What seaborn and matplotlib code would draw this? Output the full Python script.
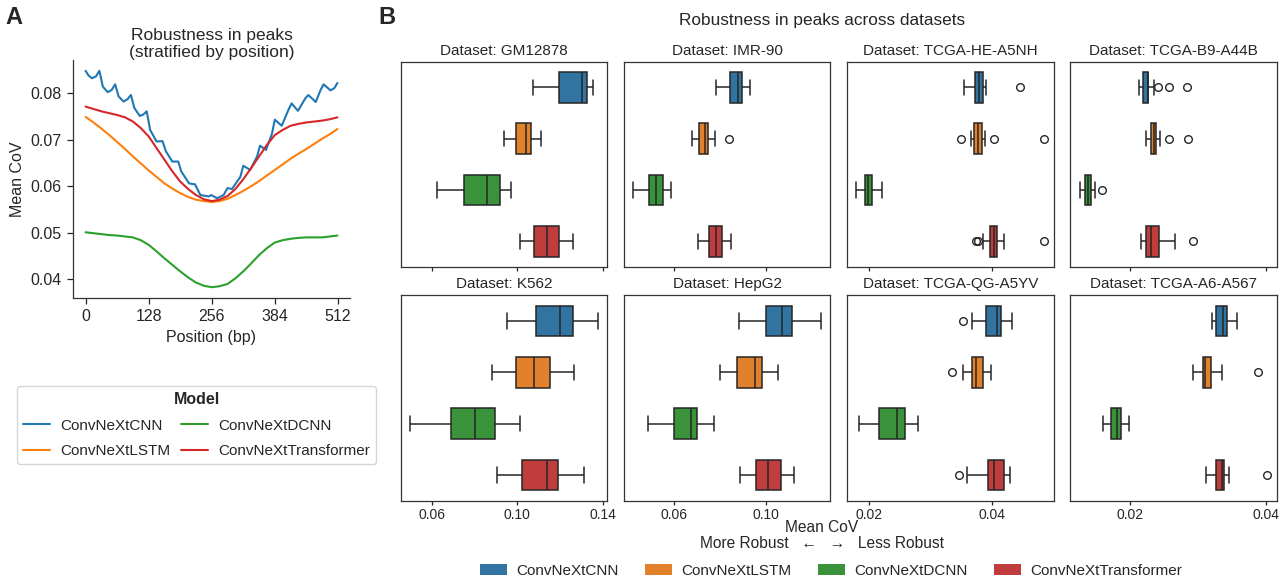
import pandas as pd
import matplotlib
matplotlib.use('Agg')
import matplotlib.pyplot as plt
import matplotlib.patches as mpatches
from matplotlib.ticker import FormatStrFormatter
import seaborn as sns

models = ['ConvNeXtCNN', 'ConvNeXtLSTM', 'ConvNeXtDCNN', 'ConvNeXtTransformer']
colors = ['#1f77b4', '#ff7f0e', '#2ca02c', '#d62728']

# Panel A: mean CoV along the peak, per model
pos_smooth = [0, 16, 32, 48, 64, 80, 96, 112, 128, 144, 160, 176, 192, 208, 224, 240, 256,
              272, 288, 304, 320, 336, 352, 368, 384, 400, 416, 432, 448, 464, 480, 496, 511]
lstm_cov = [0.0749, 0.0737, 0.0724, 0.0710, 0.0695, 0.0680, 0.0664, 0.0649, 0.0634, 0.0620,
            0.0606, 0.0595, 0.0585, 0.0577, 0.0571, 0.0568, 0.0566, 0.0568, 0.0573, 0.0581,
            0.0590, 0.0600, 0.0611, 0.0623, 0.0635, 0.0647, 0.0659, 0.0670, 0.0680, 0.0691,
            0.0702, 0.0712, 0.0723]
dcnn_cov = [0.0501, 0.0499, 0.0497, 0.0495, 0.0494, 0.0492, 0.0490, 0.0484, 0.0474, 0.0460,
            0.0445, 0.0431, 0.0417, 0.0404, 0.0393, 0.0386, 0.0383, 0.0385, 0.0390, 0.0402,
            0.0417, 0.0434, 0.0452, 0.0467, 0.0479, 0.0484, 0.0487, 0.0489, 0.0490, 0.0490,
            0.0490, 0.0492, 0.0494]
transformer_cov = [0.0771, 0.0766, 0.0761, 0.0757, 0.0753, 0.0748, 0.0739, 0.0725, 0.0707,
                   0.0682, 0.0657, 0.0632, 0.0610, 0.0594, 0.0581, 0.0572, 0.0568, 0.0571,
                   0.0579, 0.0594, 0.0615, 0.0639, 0.0664, 0.0689, 0.0710, 0.0721, 0.0730,
                   0.0734, 0.0737, 0.0739, 0.0741, 0.0744, 0.0748]
pos_cnn = [0, 6, 13, 21, 28, 35, 45, 53, 60, 67, 77, 85, 92, 99, 110, 117, 124, 131, 144,
           156, 163, 176, 188, 194, 210, 222, 233, 250, 255, 267, 280, 288, 297, 314, 320,
           334, 348, 354, 366, 378, 384, 398, 412, 418, 431, 446, 452, 467, 477, 483, 497,
           505, 511]
cnn_cov = [0.0848, 0.0838, 0.0832, 0.0836, 0.0848, 0.0814, 0.0802, 0.0807, 0.0819, 0.0793,
           0.0782, 0.0787, 0.0796, 0.0768, 0.0751, 0.0754, 0.0761, 0.0721, 0.0696, 0.0697,
           0.0675, 0.0653, 0.0653, 0.0632, 0.0606, 0.0604, 0.0581, 0.0578, 0.0581, 0.0574,
           0.0581, 0.0596, 0.0594, 0.0620, 0.0644, 0.0635, 0.0664, 0.0687, 0.0678, 0.0712,
           0.0743, 0.0730, 0.0765, 0.0778, 0.0762, 0.0789, 0.0796, 0.0781, 0.0807, 0.0819,
           0.0806, 0.0811, 0.0822]

# Panel B: per-dataset CoV values (CNN, LSTM, DCNN, Transformer)
datasets = ['GM12878', 'IMR-90', 'TCGA-HE-A5NH', 'TCGA-B9-A44B',
            'K562', 'HepG2', 'TCGA-QG-A5YV', 'TCGA-A6-A567']
gm12878 = [[0.1073, 0.1152, 0.1197, 0.1260, 0.1303, 0.1315, 0.1328, 0.1341, 0.1356],
           [0.0938, 0.0972, 0.0995, 0.1020, 0.1039, 0.1050, 0.1063, 0.1085, 0.1109],
           [0.0623, 0.0701, 0.0752, 0.0810, 0.0858, 0.0889, 0.0917, 0.0944, 0.0972],
           [0.1013, 0.1049, 0.1080, 0.1112, 0.1141, 0.1170, 0.1194, 0.1228, 0.1263]]
imr90 = [[0.0785, 0.0815, 0.0843, 0.0862, 0.0879, 0.0887, 0.0895, 0.0912, 0.0930],
         [0.0679, 0.0697, 0.0711, 0.0722, 0.0734, 0.0741, 0.0747, 0.0780, 0.0839],
         [0.0424, 0.0460, 0.0491, 0.0508, 0.0523, 0.0538, 0.0552, 0.0570, 0.0588],
         [0.0706, 0.0731, 0.0753, 0.0768, 0.0782, 0.0796, 0.0809, 0.0829, 0.0850]]
he_a5nh = [[0.0354, 0.0363, 0.0372, 0.0376, 0.0379, 0.0383, 0.0386, 0.0391, 0.0446],
           [0.0349, 0.0365, 0.0368, 0.0371, 0.0374, 0.0376, 0.0377, 0.0380, 0.0382, 0.0383,
            0.0389, 0.0404, 0.0485],
           [0.0179, 0.0186, 0.0193, 0.0196, 0.0198, 0.0201, 0.0204, 0.0212, 0.0220],
           [0.0374, 0.0377, 0.0385, 0.0397, 0.0399, 0.0401, 0.0403, 0.0405, 0.0406, 0.0408,
            0.0414, 0.0419, 0.0485]]
b9_a44b = [[0.0213, 0.0215, 0.0217, 0.0218, 0.0219, 0.0221, 0.0223, 0.0224, 0.0226, 0.0226,
            0.0227, 0.0227, 0.0227, 0.0235, 0.0241, 0.0257, 0.0284],
           [0.0223, 0.0226, 0.0229, 0.0231, 0.0233, 0.0234, 0.0235, 0.0236, 0.0238, 0.0239,
            0.0244, 0.0257, 0.0286],
           [0.0126, 0.0130, 0.0134, 0.0136, 0.0139, 0.0141, 0.0143, 0.0148, 0.0159],
           [0.0216, 0.0220, 0.0224, 0.0228, 0.0231, 0.0236, 0.0242, 0.0266, 0.0292]]
k562 = [[0.0950, 0.1031, 0.1086, 0.1150, 0.1198, 0.1231, 0.1259, 0.1316, 0.1377],
        [0.0883, 0.0945, 0.0992, 0.1037, 0.1080, 0.1118, 0.1152, 0.1205, 0.1264],
        [0.0498, 0.0610, 0.0688, 0.0748, 0.0800, 0.0850, 0.0897, 0.0952, 0.1011],
        [0.0903, 0.0968, 0.1020, 0.1085, 0.1139, 0.1165, 0.1191, 0.1250, 0.1313]]
hepg2 = [[0.0884, 0.0948, 0.1001, 0.1040, 0.1070, 0.1092, 0.1112, 0.1180, 0.1240],
         [0.0799, 0.0840, 0.0873, 0.0915, 0.0952, 0.0970, 0.0985, 0.1020, 0.1052],
         [0.0487, 0.0545, 0.0600, 0.0640, 0.0673, 0.0686, 0.0699, 0.0740, 0.0777],
         [0.0889, 0.0925, 0.0959, 0.0985, 0.1010, 0.1038, 0.1065, 0.1095, 0.1122]]
qg_a5yv = [[0.0352, 0.0367, 0.0391, 0.0400, 0.0408, 0.0411, 0.0414, 0.0424, 0.0433],
           [0.0335, 0.0352, 0.0367, 0.0371, 0.0374, 0.0380, 0.0385, 0.0391, 0.0398],
           [0.0183, 0.0199, 0.0216, 0.0232, 0.0245, 0.0252, 0.0258, 0.0268, 0.0279],
           [0.0347, 0.0359, 0.0394, 0.0398, 0.0403, 0.0412, 0.0420, 0.0425, 0.0429]]
a6_a567 = [[0.0321, 0.0324, 0.0327, 0.0332, 0.0337, 0.0339, 0.0342, 0.0349, 0.0357],
           [0.0292, 0.0299, 0.0307, 0.0309, 0.0311, 0.0315, 0.0319, 0.0335, 0.0389],
           [0.0161, 0.0166, 0.0172, 0.0177, 0.0181, 0.0184, 0.0187, 0.0193, 0.0199],
           [0.0312, 0.0320, 0.0326, 0.0331, 0.0335, 0.0337, 0.0338, 0.0346, 0.0402]]
col_ticks = [[0.06, 0.10, 0.14], [0.06, 0.10], [0.02, 0.04], [0.02, 0.04]]

# long tables
line_rows = []
for x, y in zip(pos_cnn, cnn_cov):
    line_rows.append(('ConvNeXtCNN', x, y))
for name, vals in [('ConvNeXtLSTM', lstm_cov), ('ConvNeXtDCNN', dcnn_cov),
                   ('ConvNeXtTransformer', transformer_cov)]:
    for x, y in zip(pos_smooth, vals):
        line_rows.append((name, x, y))
line_df = pd.DataFrame(line_rows, columns=['Model', 'Position', 'Mean CoV'])

box_rows = []
for ds, per_model in zip(datasets, [gm12878, imr90, he_a5nh, b9_a44b, k562, hepg2, qg_a5yv, a6_a567]):
    for model, vals in zip(models, per_model):
        for v in vals:
            box_rows.append((ds, model, v))
box_df = pd.DataFrame(box_rows, columns=['Dataset', 'Model', 'Mean CoV'])

sns.set_theme(style='ticks', context='notebook')
plt.rcParams['font.family'] = ['Liberation Sans', 'DejaVu Sans']
plt.rcParams['axes.linewidth'] = 0.9
plt.rcParams['axes.edgecolor'] = '0.2'

W, H = 1280, 578
fig = plt.figure(figsize=(12.8, 5.78), dpi=100)

# ---- panel A
ax_a = fig.add_axes([73 / W, 1 - 298 / H, (350 - 73) / W, (298 - 60) / H])
sns.lineplot(data=line_df, x='Position', y='Mean CoV', hue='Model', hue_order=models,
             palette=colors, linewidth=1.5, ax=ax_a)
sns.despine(ax=ax_a)
ax_a.set_xticks([0, 128, 256, 384, 512])
ax_a.set_yticks([0.04, 0.05, 0.06, 0.07, 0.08])
ax_a.yaxis.set_major_formatter(FormatStrFormatter('%.2f'))
ax_a.tick_params(labelsize=11.5, length=4.5, width=0.9)
ax_a.set_xlabel('Position (bp)', fontsize=11.5)
ax_a.set_ylabel('Mean CoV', fontsize=11.5)
ax_a.set_title('Robustness in peaks\n(stratified by position)', fontsize=12.5, pad=0.5)
sns.move_legend(ax_a, 'upper center', bbox_to_anchor=(196.5 / W, 1 - 386 / H),
                bbox_transform=fig.transFigure, ncol=2, title='Model', fontsize=11,
                title_fontproperties={'weight': 'bold', 'size': 11.5}, borderaxespad=0,
                columnspacing=0.7, handlelength=1.8, handletextpad=0.65, labelspacing=0.75,
                frameon=True)

# ---- panel B
gs = fig.add_gridspec(2, 4, left=400.7 / W, right=1276.7 / W, top=1 - 61.7 / H,
                      bottom=1 - 500.7 / H, wspace=0.081, hspace=0.138)
axes = gs.subplots(sharex='col')
for ax, ds in zip(axes.flat, datasets):
    sub = box_df[box_df['Dataset'] == ds]
    sns.boxplot(data=sub, x='Mean CoV', y='Model', hue='Model', order=models,
                hue_order=models, palette=colors, width=0.6, linecolor='0.15',
                linewidth=1.1, legend=False, ax=ax,
                flierprops=dict(marker='o', markerfacecolor='none',
                                markeredgecolor='0.15', markersize=5.5))
    ax.set_title(f'Dataset: {ds}', fontsize=11, pad=5)
    ax.set_xlabel('')
    ax.set_ylabel('')
    ax.tick_params(axis='y', left=False, labelleft=False)
    ax.tick_params(axis='x', labelsize=10, length=3, width=0.9, pad=2)
    for s in ax.spines.values():
        s.set_visible(True)
for c in range(4):
    axes[1, c].set_xticks(col_ticks[c])
    axes[1, c].xaxis.set_major_formatter(FormatStrFormatter('%.2f'))
    axes[0, c].tick_params(axis='x', labelbottom=False)

mid_b = 822 / W
fig.text(mid_b, 1 - 20 / H, 'Robustness in peaks across datasets', ha='center', va='center',
         fontsize=12.4)
fig.text(mid_b, 1 - 527 / H, 'Mean CoV', ha='center', va='center', fontsize=11.2)
fig.text(mid_b, 1 - 543 / H, 'More Robust   \u2190   \u2192   Less Robust', ha='center',
         va='center', fontsize=11.2)

handles = [mpatches.Patch(facecolor=h.get_facecolor(), edgecolor='none')
           for h in axes[0, 0].patches[:4]]
fig.legend(handles, models, loc='center', bbox_to_anchor=(831 / W, 1 - 571 / H), ncol=4,
           frameon=False, fontsize=11, handlelength=1.75, handletextpad=0.6,
           columnspacing=1.75)

fig.text(5 / W, 1 - 6 / H, 'A', fontsize=17, fontweight='bold', va='top', ha='left')
fig.text(378 / W, 1 - 6 / H, 'B', fontsize=17, fontweight='bold', va='top', ha='left')

fig.savefig('out.png', dpi=100)
